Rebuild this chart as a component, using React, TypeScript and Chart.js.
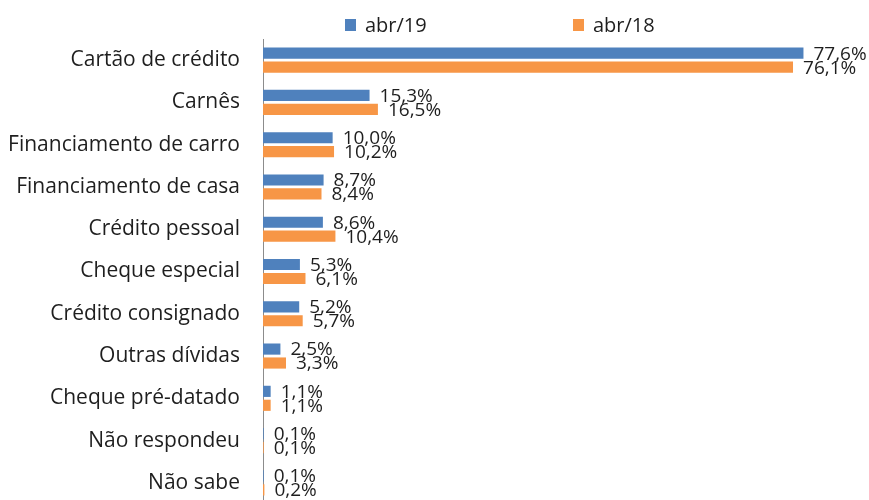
import React, { useEffect, useRef } from "react";
import { Chart, registerables } from "chart.js";

Chart.register(...registerables);

const categories = [
  "Cartão de crédito",
  "Carnês",
  "Financiamento de carro",
  "Financiamento de casa",
  "Crédito pessoal",
  "Cheque especial",
  "Crédito consignado",
  "Outras dívidas",
  "Cheque pré-datado",
  "Não respondeu",
  "Não sabe",
];
const seriesNames = ["abr/19", "abr/18"];
const abr19 = [77.6, 15.3, 10.0, 8.7, 8.6, 5.3, 5.2, 2.5, 1.1, 0.1, 0.1];
const abr18 = [76.1, 16.5, 10.2, 8.4, 10.4, 6.1, 5.7, 3.3, 1.1, 0.1, 0.2];

const BLUE = "#4F81BD";
const ORANGE = "#F79646";
const FONT = "'Open Sans', sans-serif";

const fmt = (v: number) => v.toFixed(1).replace(".", ",") + "%";

const labelsPlugin = {
  id: "valueLabels",
  afterDatasetsDraw(chart: any) {
    const ctx = chart.ctx;
    ctx.save();
    ctx.font = `19px ${FONT}`;
    ctx.fillStyle = "#1e1e1e";
    ctx.textAlign = "left";
    ctx.textBaseline = "middle";
    chart.data.datasets.forEach((ds: any, di: number) => {
      const meta = chart.getDatasetMeta(di);
      meta.data.forEach((bar: any, i: number) => {
        ctx.fillText(fmt(ds.data[i]), bar.x + 10, bar.y + 1);
      });
    });
    ctx.restore();
  },
};

const legendPlugin = {
  id: "customLegend",
  afterDraw(chart: any) {
    const ctx = chart.ctx;
    ctx.save();
    ctx.font = `20px ${FONT}`;
    ctx.textBaseline = "middle";
    ctx.textAlign = "left";
    chart.data.datasets.forEach((ds: any, di: number) => {
      const x = 345 + di * 228;
      const y = 25;
      ctx.fillStyle = ds.backgroundColor;
      ctx.fillRect(x, y - 6, 11, 12);
      ctx.fillStyle = "#1e1e1e";
      ctx.fillText(ds.label, x + 20, y + 1);
    });
    ctx.restore();
  },
};

export default function App() {
  const ref = useRef<HTMLCanvasElement | null>(null);
  useEffect(() => {
    if (!ref.current) return;
    const chart = new Chart(ref.current, {
      type: "bar",
      data: {
        labels: categories,
        datasets: [
          { label: seriesNames[0], data: abr19, backgroundColor: BLUE, categoryPercentage: 0.66, barPercentage: 0.8 },
          { label: seriesNames[1], data: abr18, backgroundColor: ORANGE, categoryPercentage: 0.66, barPercentage: 0.8 },
        ],
      },
      options: {
        indexAxis: "y",
        animation: false,
        responsive: true,
        maintainAspectRatio: false,
        layout: { padding: { top: 39, bottom: 2, left: 0, right: 14 } },
        plugins: { legend: { display: false }, tooltip: { enabled: false } },
        scales: {
          x: { display: false, min: 0, max: 85 },
          y: {
            grid: { display: false, drawTicks: false },
            border: { display: true, color: "#8c8c8c", width: 1 },
            ticks: { color: "#1e1e1e", font: { family: FONT, size: 21 }, padding: 23 },
            afterFit(scale: any) {
              scale.width = 263;
              scale.paddingTop = 0;
              scale.paddingBottom = 0;
            },
          },
        },
      },
      plugins: [labelsPlugin, legendPlugin],
    });
    return () => chart.destroy();
  }, []);
  return (
    <div style={{ position: "absolute", left: 0, top: 0, width: 869, height: 500, overflow: "hidden", background: "#fff" }}>
      <div style={{ position: "relative", width: 869, height: 506 }}>
        <canvas ref={ref} />
      </div>
    </div>
  );
}
